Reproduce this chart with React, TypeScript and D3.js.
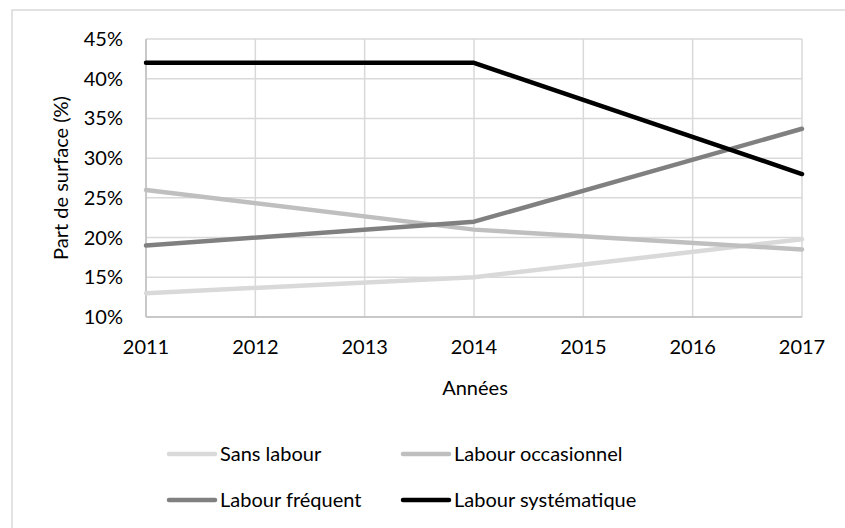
import React from "react";
import * as d3 from "d3";

const years = [2011, 2014, 2017];
const sansLabour = [13, 15, 19.8];
const labourOccasionnel = [26, 21, 18.5];
const labourFrequent = [19, 22, 33.7];
const labourSystematique = [42, 42, 28];
const yTicks = [10, 15, 20, 25, 30, 35, 40, 45];
const xTicks = [2011, 2012, 2013, 2014, 2015, 2016, 2017];

const seriesNames = ["Sans labour", "Labour occasionnel", "Labour fréquent", "Labour systématique"];
const seriesValues = [sansLabour, labourOccasionnel, labourFrequent, labourSystematique];
const seriesColors = ["#d9d9d9", "#bfbfbf", "#808080", "#000000"];

const W = 845;
const H = 528;
const FONT = "Lato, 'Open Sans', sans-serif";
const FS = 20;

export default function App() {
  const x = d3.scaleLinear().domain([2011, 2017]).range([146, 802]);
  const y = d3.scaleLinear().domain([10, 45]).range([317, 39]);
  const line = d3
    .line<[number, number]>()
    .x((d) => x(d[0]))
    .y((d) => y(d[1]));

  const legendPos = [
    { lx: 169, ly: 454 },
    { lx: 403, ly: 454 },
    { lx: 169, ly: 500 },
    { lx: 403, ly: 500 },
  ];

  return (
    <svg
      width={W}
      height={H}
      style={{ position: "absolute", left: 0, top: 0, background: "#fff" }}
      fontFamily={FONT}
    >
      <rect x={12} y={10} width={W + 20} height={H + 20} fill="#fff" stroke="#d9d9d9" strokeWidth={1.5} />
      {yTicks.map((t) => (
        <line key={"gy" + t} x1={x(2011)} x2={x(2017)} y1={y(t)} y2={y(t)} stroke="#d9d9d9" strokeWidth={1.5} />
      ))}
      {xTicks.map((t) => (
        <line key={"gx" + t} x1={x(t)} x2={x(t)} y1={y(10)} y2={y(45)} stroke="#d9d9d9" strokeWidth={1.5} />
      ))}
      <line x1={x(2011)} x2={x(2017)} y1={y(10)} y2={y(10)} stroke="#bfbfbf" strokeWidth={1.5} />
      <line x1={x(2011)} x2={x(2011)} y1={y(10)} y2={y(45)} stroke="#bfbfbf" strokeWidth={1.5} />
      {yTicks.map((t) => (
        <text key={"ty" + t} x={123} y={y(t)} dy="0.35em" textAnchor="end" fontSize={FS} fill="#000">
          {t + "%"}
        </text>
      ))}
      {xTicks.map((t) => (
        <text key={"tx" + t} x={x(t)} y={347} dy="0.35em" textAnchor="middle" fontSize={FS} fill="#000">
          {String(t)}
        </text>
      ))}
      <text x={475} y={388} dy="0.35em" textAnchor="middle" fontSize={FS} fill="#000">
        Années
      </text>
      <text
        transform={`translate(61,${(y(10) + y(45)) / 2}) rotate(-90)`}
        textAnchor="middle"
        dy="0.35em"
        fontSize={FS}
        fill="#000"
      >
        Part de surface (%)
      </text>
      {seriesValues.map((vals, i) => (
        <path
          key={"s" + i}
          d={line(years.map((yr, j) => [yr, vals[j]] as [number, number])) || ""}
          fill="none"
          stroke={seriesColors[i]}
          strokeWidth={4.5}
          strokeLinejoin="round"
          strokeLinecap="round"
        />
      ))}
      {seriesNames.map((name, i) => (
        <g key={"l" + i}>
          <line
            x1={legendPos[i].lx}
            x2={legendPos[i].lx + 46}
            y1={legendPos[i].ly}
            y2={legendPos[i].ly}
            stroke={seriesColors[i]}
            strokeWidth={4.5}
            strokeLinecap="round"
          />
          <text x={legendPos[i].lx + 51} y={legendPos[i].ly} dy="0.35em" fontSize={FS} fill="#000">
            {name}
          </text>
        </g>
      ))}
    </svg>
  );
}
